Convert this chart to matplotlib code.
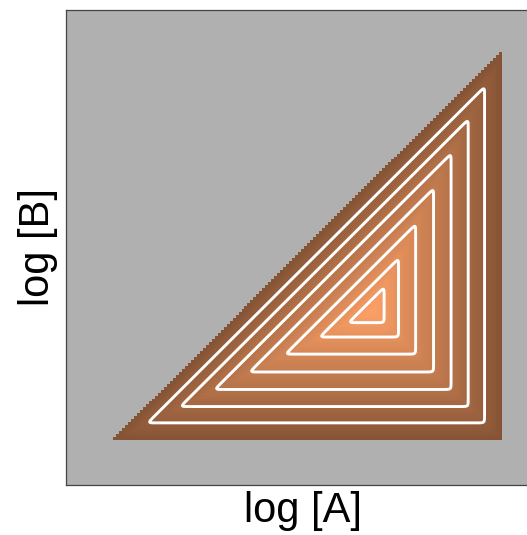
import numpy as np
import matplotlib
matplotlib.use("Agg")
from matplotlib import pyplot as plt
from matplotlib.colors import Normalize

# log-concentration window shown on the axes
LOGA_LIM = (-11.2, 1.0)
LOGB_LIM = (-11.15, 1.08)

# feasible region: lower bound on both species, log[B] <= log[A]
LOG_FLOOR = -10.0
LOG_CEIL = 0.0

# contour levels of the yield surface
levels = [0.45, 0.87, 1.31, 1.76, 2.22, 2.66, 3.03]

# colour range of the surface
vmin, vmax = -3.65, 5.05
smooth = 0.035


def yield_surface(la, lb):
    a = LOG_CEIL - la
    b = lb - LOG_FLOOR
    c = la - lb
    z = -smooth * np.log(np.exp(-a / smooth) + np.exp(-b / smooth) + np.exp(-c / smooth))
    inside = (a >= 0) & (b >= 0) & (c >= 0)
    return np.ma.masked_where(~inside, z)


# coarse grid for the shaded surface
n_img = 130
edges = np.linspace(LOG_FLOOR, LOG_CEIL, n_img + 1)
centers = 0.5 * (edges[:-1] + edges[1:])
LA, LB = np.meshgrid(centers, centers)
Z = yield_surface(LA, LB)

# fine grid for the contour lines
fine = np.linspace(LOG_FLOOR, LOG_CEIL, 800)
FA, FB = np.meshgrid(fine, fine)
FZ = yield_surface(FA, FB)

fig = plt.figure(figsize=(5.27, 5.35), dpi=100)
ax = fig.add_axes([66 / 527, 50 / 535, 475 / 527, 475 / 535])
ax.set_facecolor("#b0b0b0")

ax.pcolormesh(edges, edges, Z, cmap="copper", norm=Normalize(vmin, vmax), shading="flat")
ax.contour(FA, FB, FZ, levels=levels, colors="white", linewidths=2.1)

ax.set_xlim(*LOGA_LIM)
ax.set_ylim(*LOGB_LIM)
ax.set_xticks([])
ax.set_yticks([])
for sp in ax.spines.values():
    sp.set_color("#444444")
    sp.set_linewidth(0.9)

ax.set_xlabel("log [A]", fontsize=30, family="Liberation Sans", labelpad=4)
ax.set_ylabel("log [B]", fontsize=30, family="Liberation Sans", labelpad=6)

fig.savefig("out.png", dpi=100)
